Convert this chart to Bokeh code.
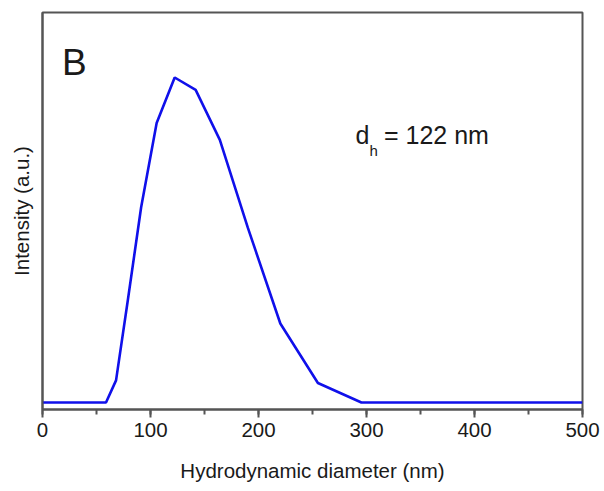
from bokeh.plotting import figure
from bokeh.models import Range1d, SingleIntervalTicker, Label
from bokeh.embed import file_html
from bokeh.resources import INLINE

# Data (DLS size distribution, intensity normalised to peak = 100)
diameter_nm = [0, 58.8, 68.1, 78.8, 91.3, 105.7, 122.4, 141.8, 164.2, 190.1, 220.2, 255.0, 295.3, 500]
intensity = [0, 0, 6.8, 31.0, 60.0, 86.0, 100.0, 96.2, 80.8, 53.8, 24.3, 6.0, 0, 0]
x_ticks_interval = 100
panel_letter = "B"
annotation_main = "d"
annotation_sub = "h"
annotation_rest = "= 122 nm"

FONT = "Liberation Sans"
TXT = "#1a1a1a"
FRAME = "#555555"

p = figure(
    width=602, height=479,
    frame_width=540, frame_height=397,
    x_range=Range1d(0, 500), y_range=Range1d(-2.15, 120),
    output_backend="svg", toolbar_location=None,
    min_border_left=42, min_border_top=12, min_border_right=20, min_border_bottom=70,
)
p.background_fill_color = "white"
p.border_fill_color = "white"
p.outline_line_color = FRAME
p.outline_line_width = 2
p.grid.visible = False

p.line(diameter_nm, intensity, line_color="#1010ea", line_width=2.6)

# x axis
xa = p.xaxis[0]
xa.ticker = SingleIntervalTicker(interval=x_ticks_interval, num_minor_ticks=2)
xa.axis_line_color = FRAME
xa.axis_line_width = 2
xa.major_tick_line_color = FRAME
xa.major_tick_line_width = 2
xa.major_tick_out = 8
xa.major_tick_in = 0
xa.minor_tick_line_color = FRAME
xa.minor_tick_line_width = 2
xa.minor_tick_out = 5
xa.minor_tick_in = 0
xa.major_label_text_font = FONT
xa.major_label_text_font_size = "20.5px"
xa.major_label_text_color = TXT
xa.major_label_standoff = 5
xa.axis_label = "Hydrodynamic diameter (nm)"
xa.axis_label_text_font = FONT
xa.axis_label_text_font_size = "20.5px"
xa.axis_label_text_font_style = "normal"
xa.axis_label_text_color = TXT
xa.axis_label_standoff = 19

# y axis (label only)
ya = p.yaxis[0]
ya.axis_line_color = FRAME
ya.axis_line_width = 2
ya.major_tick_line_color = None
ya.minor_tick_line_color = None
ya.major_label_text_font_size = "0px"
ya.major_label_text_color = None
ya.axis_label = "Intensity (a.u.)"
ya.axis_label_text_font = FONT
ya.axis_label_text_font_size = "20.5px"
ya.axis_label_text_font_style = "normal"
ya.axis_label_text_color = TXT
ya.axis_label_standoff = 4

p.add_layout(Label(x=18.0, y=104.6, text=panel_letter, text_font=FONT,
                   text_font_size="37px", text_color=TXT, text_baseline="alphabetic"))
p.add_layout(Label(x=289.8, y=82.2, text=annotation_main, text_font=FONT,
                   text_font_size="25px", text_color=TXT, text_baseline="alphabetic"))
p.add_layout(Label(x=302.8, y=77.5, text=annotation_sub, text_font=FONT,
                   text_font_size="15px", text_color=TXT, text_baseline="alphabetic"))
p.add_layout(Label(x=316.2, y=82.2, text=annotation_rest, text_font=FONT,
                   text_font_size="25px", text_color=TXT, text_baseline="alphabetic"))

open("out.html", "w").write(file_html(p, INLINE))
